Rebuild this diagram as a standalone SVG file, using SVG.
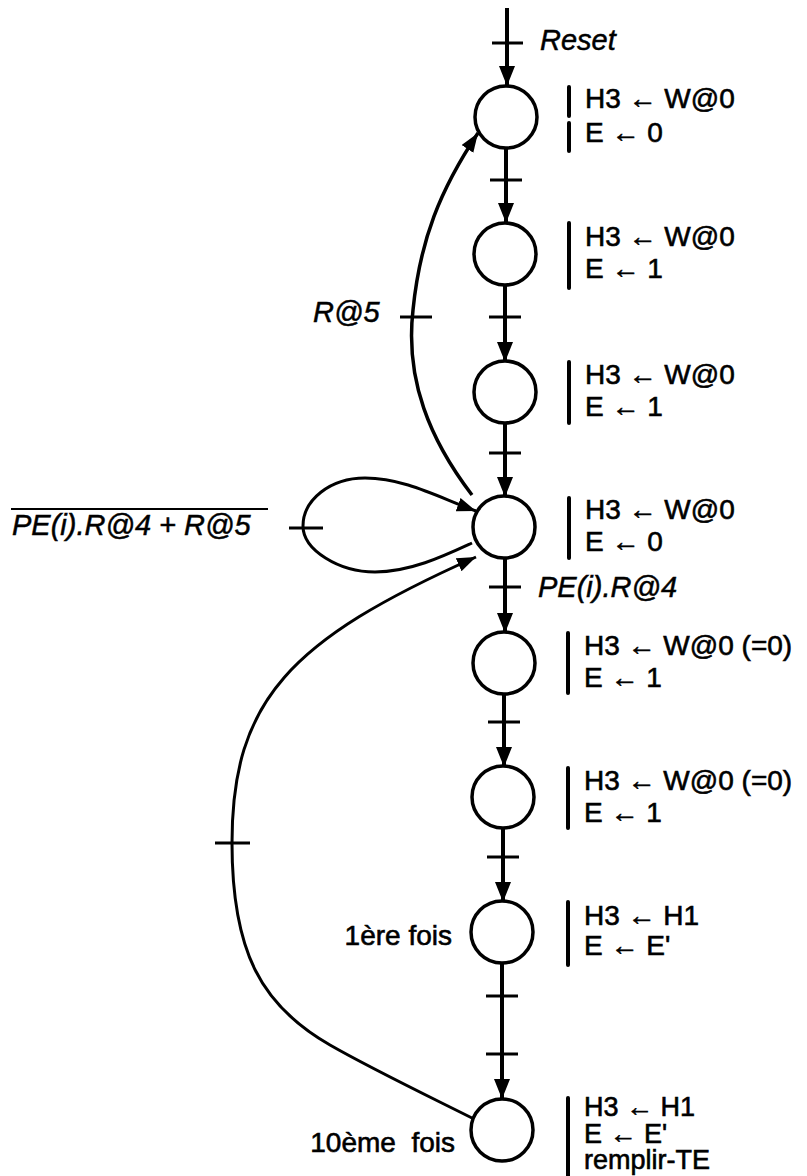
<svg xmlns="http://www.w3.org/2000/svg" width="807" height="1176" viewBox="0 0 807 1176">
<defs>
<marker id="ah" markerUnits="userSpaceOnUse" markerWidth="22" markerHeight="18" refX="20" refY="8" orient="auto">
<path d="M0,0 L20,8 L0,16 Z" fill="#000"/>
</marker>
<marker id="ah2" markerUnits="userSpaceOnUse" markerWidth="22" markerHeight="16" refX="19" refY="7" orient="auto">
<path d="M0,0 L19,7 L0,14 Z" fill="#000"/>
</marker>
</defs>
<style>
.st{fill:#fff;stroke:#000;stroke-width:3.5}
.v{stroke:#000;stroke-width:4;fill:none}
.arc{stroke:#000;stroke-width:3;fill:none}
.tk{stroke:#000;stroke-width:3}
.bar{stroke:#000;stroke-width:4;stroke-linecap:round}
.t{font-family:"Liberation Sans",Arial,sans-serif;font-size:28px;fill:#000;stroke:#000;stroke-width:0.6}
.it{font-family:"Liberation Sans",Arial,sans-serif;font-size:29px;font-style:italic;fill:#000;stroke:#000;stroke-width:0.5}
.sm{font-size:27px}
</style>
<rect width="807" height="1176" fill="#fff"/>
<g id="connectors">
<line class="v" x1="507" y1="8" x2="507" y2="86" marker-end="url(#ah)"/>
<line class="tk" x1="492" y1="43" x2="523" y2="43"/>
<line class="v" x1="506" y1="149" x2="506" y2="223" marker-end="url(#ah)"/>
<line class="tk" x1="490" y1="180" x2="522" y2="180"/>
<line class="v" x1="505" y1="286" x2="505" y2="362" marker-end="url(#ah)"/>
<line class="tk" x1="489" y1="317" x2="521" y2="317"/>
<line class="v" x1="505" y1="423" x2="505" y2="497" marker-end="url(#ah)"/>
<line class="tk" x1="489" y1="453" x2="521" y2="453"/>
<line class="v" x1="505" y1="558" x2="505" y2="633" marker-end="url(#ah)"/>
<line class="tk" x1="489" y1="587" x2="521" y2="587"/>
<line class="v" x1="504" y1="694" x2="504" y2="767" marker-end="url(#ah)"/>
<line class="tk" x1="488" y1="722" x2="520" y2="722"/>
<line class="v" x1="503" y1="828" x2="503" y2="902" marker-end="url(#ah)"/>
<line class="tk" x1="487" y1="857" x2="519" y2="857"/>
<line class="v" x1="502" y1="963" x2="502" y2="1099" marker-end="url(#ah)"/>
<line class="tk" x1="486" y1="996" x2="518" y2="996"/>
<line class="tk" x1="486" y1="1054" x2="518" y2="1054"/>
<path class="arc" style="stroke-width:3.5" d="M472,495 C430,440 405,380 413,310 C420,240 440,190 478,133" marker-end="url(#ah2)"/>
<line class="tk" x1="400" y1="317" x2="432" y2="317"/>
<path class="arc" d="M472,543 C446,555 411,572 375,572 C339,572 303,550 303,526 C303,500 330,478 365,478 C405,478 440,498 476,511" marker-end="url(#ah2)"/>
<line class="tk" x1="289" y1="528" x2="323" y2="528"/>
<path class="arc" d="M476,1120 C420,1092 370,1068 330,1045 C260,1005 232,950 232,843 C232,700 290,640 476,557" marker-end="url(#ah2)"/>
<line class="tk" x1="215" y1="843" x2="250" y2="843"/>
</g>
<g id="n1"><ellipse class="st" cx="506" cy="117" rx="31" ry="31"/></g>
<g id="n2"><ellipse class="st" cx="505" cy="254" rx="31" ry="31"/></g>
<g id="n3"><ellipse class="st" cx="505" cy="392" rx="31" ry="31"/></g>
<g id="n4"><ellipse class="st" cx="504" cy="527" rx="31" ry="31"/></g>
<g id="n5"><ellipse class="st" cx="504" cy="663" rx="31" ry="31"/></g>
<g id="n6"><ellipse class="st" cx="503" cy="797" rx="31" ry="31"/></g>
<g id="n7"><ellipse class="st" cx="502" cy="932" rx="31" ry="31"/></g>
<g id="n8"><ellipse class="st" cx="502" cy="1130" rx="31" ry="31"/></g>
<g id="labels">
<text class="it" x="540" y="50">Reset</text>
<text class="it" x="313" y="322">R@5</text>
<text class="it" x="538" y="597">PE(i).R@4</text>
<text class="it" x="12" y="535">PE(i).R@4 + R@5</text>
<line x1="11" y1="509" x2="268" y2="509" stroke="#000" stroke-width="2"/>
<text class="t" x="452" y="945" text-anchor="end">1ère fois</text>
<text class="t" x="455" y="1152" text-anchor="end" xml:space="preserve">10ème  fois</text>
</g>
<g id="actions">
<line class="bar" x1="569" y1="87" x2="569" y2="116"/>
<line class="bar" x1="569" y1="123" x2="569" y2="151"/>
<text class="t" x="585" y="108">H3 ← W@0</text>
<text class="t" x="585" y="142">E ← 0</text>
<line class="bar" x1="569" y1="223" x2="569" y2="288"/>
<text class="t" x="585" y="246">H3 ← W@0</text>
<text class="t" x="585" y="278">E ← 1</text>
<line class="bar" x1="569" y1="362" x2="569" y2="423"/>
<text class="t" x="585" y="384">H3 ← W@0</text>
<text class="t" x="585" y="416">E ← 1</text>
<line class="bar" x1="569" y1="498" x2="569" y2="558"/>
<text class="t" x="585" y="519">H3 ← W@0</text>
<text class="t" x="585" y="551">E ← 0</text>
<line class="bar" x1="568" y1="633" x2="568" y2="693"/>
<text class="t" x="584" y="655">H3 ← W@0 (=0)</text>
<text class="t" x="584" y="687">E ← 1</text>
<line class="bar" x1="568" y1="768" x2="568" y2="828"/>
<text class="t" x="584" y="790">H3 ← W@0 (=0)</text>
<text class="t" x="584" y="822">E ← 1</text>
<line class="bar" x1="568" y1="902" x2="568" y2="965"/>
<text class="t" x="584" y="925">H3 ← H1</text>
<text class="t" x="584" y="955">E ← E'</text>
<line class="bar" x1="568" y1="1098" x2="568" y2="1176"/>
<text class="t sm" x="584" y="1116">H3 ← H1</text>
<text class="t sm" x="584" y="1143">E ← E'</text>
<text class="t sm" x="584" y="1169">remplir-TE</text>
</g>
</svg>
